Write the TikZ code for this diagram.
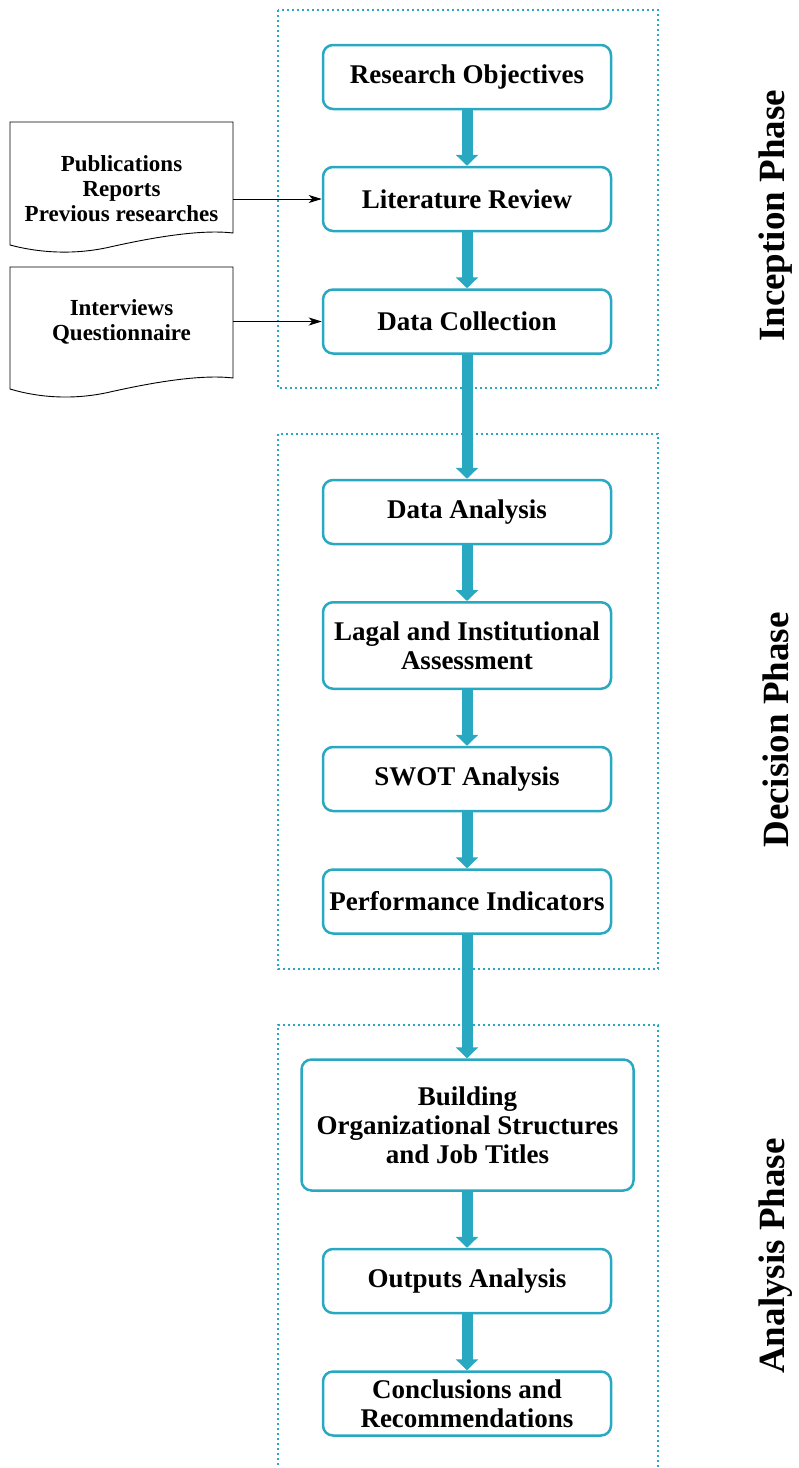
\documentclass[tikz,border=0pt]{standalone}
\usepackage{fontspec}
\setmainfont{Liberation Serif}
\usetikzlibrary{arrows.meta}
\definecolor{flowblue}{RGB}{41,168,194}
\tikzset{
  stepbox/.style={draw=flowblue, line width=2.5pt, rounded corners=10pt, fill=white,
    minimum width=288pt, minimum height=64pt, inner sep=0pt, align=center,
    font=\fontsize{27}{29}\selectfont\bfseries},
  docbox/.style={inner sep=0pt, minimum width=223pt, align=center,
    font=\fontsize{23}{25}\selectfont\bfseries},
  docline/.style={draw=black, line width=0.9pt},
  phasebox/.style={draw=flowblue, line width=2pt, dash pattern=on 2pt off 3pt},
  flow/.style={draw=flowblue, line width=11pt, -{Triangle[length=11pt,width=22pt]}, flowblue},
  feed/.style={draw=black, line width=0.9pt, -{Stealth[length=13pt,width=8pt,inset=3.5pt]}},
  phaselabel/.style={rotate=90, font=\fontsize{37}{39}\selectfont\bfseries}
}
\begin{document}
\begin{tikzpicture}[x=1pt,y=-1pt]
\useasboundingbox (0,0) rectangle (799,1468);

% phase frames
\draw[phasebox] (278,10) rectangle (658,388);
\draw[phasebox] (278,434) rectangle (658,969);
\draw[phasebox] (278,1480) -- (278,1025) -- (658,1025) -- (658,1480);

% process steps
\node[stepbox] (ro) at (467,77) {Research Objectives};
\node[stepbox] (lr) at (467,199) {Literature Review};
\node[stepbox] (dc) at (467,321.5) {Data Collection};
\node[stepbox] (da) at (467,512) {Data Analysis};
\node[stepbox, minimum height=86.5pt] (li) at (467,645.5) {Lagal and Institutional\\Assessment};
\node[stepbox] (sw) at (467,779) {SWOT Analysis};
\node[stepbox] (pi) at (467,901.5) {Performance Indicators};
\node[stepbox, minimum width=332pt, minimum height=131pt] (bo) at (467.5,1125) {Building\\Organizational Structures\\and Job Titles};
\node[stepbox] (oa) at (467,1281) {Outputs Analysis};
\node[stepbox] (co) at (467,1403.5) {Conclusions and\\Recommendations};

% flow arrows
\draw[flow] (ro) -- (lr);
\draw[flow] (lr) -- (dc);
\draw[flow] (dc) -- (da);
\draw[flow] (da) -- (li);
\draw[flow] (li) -- (sw);
\draw[flow] (sw) -- (pi);
\draw[flow] (pi) -- (bo.north -| pi.south);
\draw[flow] (bo.south -| oa.north) -- (oa);
\draw[flow] (oa) -- (co);

% source documents
\draw[docline] (10,122) -- (233,122) -- (233,233)
  .. controls (200,229) and (150,238) .. (110,247)
  .. controls (75,255) and (40,253) .. (10,245) -- cycle;
\node[docbox] (doc1) at (121.5,189) {Publications\\Reports\\Previous researches};

\draw[docline] (10,267) -- (233,267) -- (233,378)
  .. controls (200,374) and (150,383) .. (110,392)
  .. controls (75,400) and (40,398) .. (10,389) -- cycle;
\node[docbox] (doc2) at (121.5,322) {Interviews\\Questionnaire};

\draw[feed] (doc1.east |- lr.west) -- (lr.west);
\draw[feed] (doc2.east |- dc.west) -- (dc.west);

% phase titles
\node[phaselabel] (p1) at (776,216) {Inception Phase};
\node[phaselabel] (p2) at (776,730) {Decision Phase};
\node[phaselabel] (p3) at (776,1256) {Analysis Phase};
\end{tikzpicture}
\end{document}
